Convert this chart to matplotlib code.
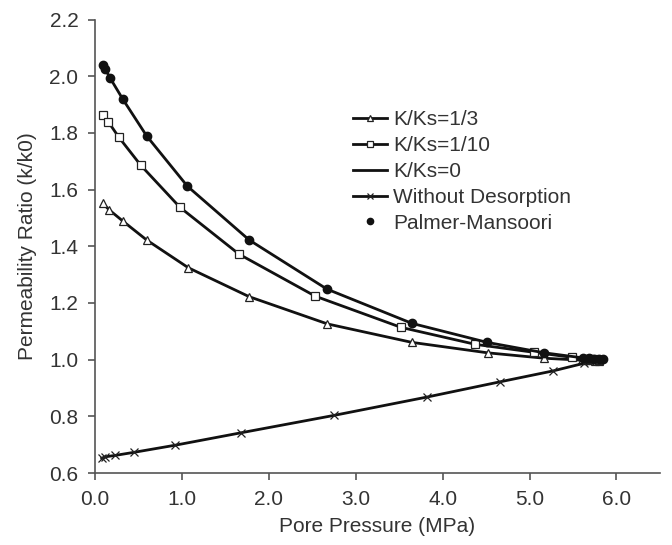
import matplotlib
matplotlib.use("Agg")
import matplotlib.pyplot as plt
from matplotlib.ticker import MultipleLocator, FormatStrFormatter

plt.rcParams["font.family"] = ["Liberation Sans", "DejaVu Sans"]

# K/Ks = 1/3
p_13 = [0.09, 0.165, 0.32, 0.595, 1.075, 1.775, 2.675, 3.645, 4.52, 5.17, 5.6, 5.65, 5.7, 5.75, 5.8]
k_13 = [1.551, 1.528, 1.489, 1.422, 1.324, 1.222, 1.126, 1.061, 1.024, 1.005, 0.998, 0.997, 0.997, 0.996, 0.996]

# K/Ks = 1/10
p_110 = [0.09, 0.153, 0.276, 0.526, 0.979, 1.658, 2.534, 3.52, 4.376, 5.048, 5.49, 5.65, 5.7, 5.75, 5.8]
k_110 = [1.865, 1.839, 1.784, 1.686, 1.537, 1.372, 1.224, 1.114, 1.054, 1.026, 1.008, 1.003, 1.002, 1.001, 1.0]

# K/Ks = 0 (line) and Palmer-Mansoori (points)
p_0 = [0.09, 0.115, 0.173, 0.32, 0.595, 1.063, 1.775, 2.668, 3.647, 4.511, 5.171, 5.62, 5.68, 5.74, 5.8, 5.85]
k_0 = [2.039, 2.027, 1.994, 1.919, 1.789, 1.612, 1.422, 1.249, 1.128, 1.061, 1.024, 1.006, 1.005, 1.004, 1.003, 1.002]
p_pm = [0.09, 0.115, 0.173, 0.32, 0.595, 1.063, 1.775, 2.668, 3.647, 4.511, 5.171, 5.62, 5.68, 5.74, 5.8, 5.85]
k_pm = [2.039, 2.027, 1.994, 1.919, 1.789, 1.612, 1.422, 1.249, 1.128, 1.061, 1.024, 1.006, 1.005, 1.004, 1.003, 1.002]

# without desorption
p_nd = [0.077, 0.115, 0.23, 0.449, 0.921, 1.681, 2.745, 3.82, 4.664, 5.267, 5.624, 5.7]
k_nd = [0.652, 0.657, 0.662, 0.673, 0.698, 0.742, 0.803, 0.868, 0.922, 0.960, 0.987, 0.995]

fig = plt.figure(figsize=(6.72, 5.45), dpi=100)
ax = fig.add_axes([0.1414, 0.1321, 0.8406, 0.832])

ln = dict(color="#111111", linewidth=2.0)
ax.plot(p_13, k_13, marker="^", markersize=5.5, markerfacecolor="white",
        markeredgecolor="#222222", markeredgewidth=0.9, label="K/Ks=1/3", **ln)
ax.plot(p_110, k_110, marker="s", markersize=5.5, markerfacecolor="white",
        markeredgecolor="#222222", markeredgewidth=0.9, label="K/Ks=1/10", **ln)
ax.plot(p_0, k_0, label="K/Ks=0", **ln)
ax.plot(p_nd, k_nd, marker="x", markersize=6, markeredgecolor="#222222",
        markeredgewidth=0.9, label="Without Desorption", **ln)
ax.plot(p_pm, k_pm, linestyle="none", marker="o", markersize=6,
        color="#111111", label="Palmer-Mansoori")

ax.set_xlim(0, 6.5)
ax.set_ylim(0.6, 2.2)
ax.xaxis.set_major_locator(MultipleLocator(1.0))
ax.yaxis.set_major_locator(MultipleLocator(0.2))
ax.xaxis.set_major_formatter(FormatStrFormatter("%.1f"))
ax.yaxis.set_major_formatter(FormatStrFormatter("%.1f"))

for s in ("top", "right"):
    ax.spines[s].set_visible(False)
for s in ("left", "bottom"):
    ax.spines[s].set_color("#555555")
    ax.spines[s].set_linewidth(1.2)
ax.tick_params(direction="out", length=5, width=1.2, color="#555555",
               labelsize=15, labelcolor="#333333")
ax.tick_params(axis="x", pad=7)
ax.tick_params(axis="y", pad=7)

ax.set_xlabel("Pore Pressure (MPa)", fontsize=15, color="#333333", labelpad=6)
ax.set_ylabel("Permeability Ratio (k/k0)", fontsize=15, color="#333333", labelpad=9)

leg = ax.legend(loc="upper left", bbox_to_anchor=(0.457, 0.80), frameon=False,
                fontsize=15, handlelength=1.6, handletextpad=0.33,
                labelspacing=0.33, borderpad=0, borderaxespad=0, markerscale=0.75)
for t in leg.get_texts():
    t.set_color("#333333")

fig.savefig("out.png", dpi=100)
